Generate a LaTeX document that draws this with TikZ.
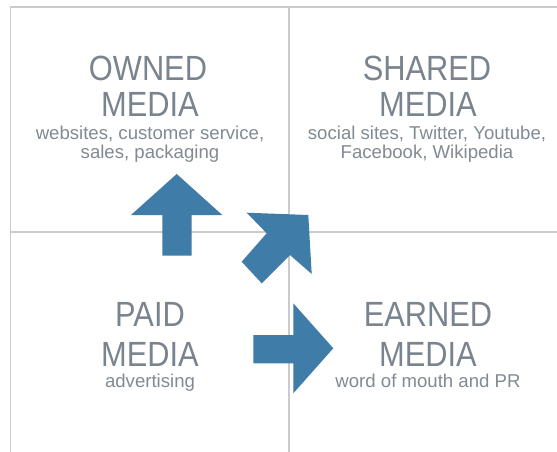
\documentclass[tikz,border=0pt]{standalone}
\usepackage{fontspec}
\setmainfont{Liberation Sans}
\newfontfamily\titlefont{Liberation Sans}[FakeStretch=0.88]
\definecolor{gridgray}{RGB}{202,203,205}
\definecolor{titlegray}{RGB}{122,132,142}
\definecolor{descgray}{RGB}{130,138,146}
\definecolor{arrowblue}{RGB}{64,124,168}
\begin{document}
\begin{tikzpicture}[x=1pt,y=-1pt,
  gridline/.style={draw=gridgray,line width=1.4pt},
  title/.style={anchor=base,inner sep=0pt,text=titlegray,
    font=\titlefont\fontsize{35}{35}\selectfont},
  desc/.style={anchor=base,inner sep=0pt,text=descgray,
    font=\fontsize{18.6}{18.6}\selectfont},
  blockarrow/.style={fill=arrowblue,draw=none}]
\fill[white] (0,0) rectangle (557,452);
\useasboundingbox (0,0) rectangle (557,452);

% quadrant grid
\coordinate (corner) at (10.7,7);
\coordinate (leftend) at (10.7,452);
\coordinate (topend) at (557,7);
\coordinate (midtop) at (289,7);
\coordinate (midbottom) at (289,452);
\coordinate (midleft) at (10.7,232);
\coordinate (midright) at (557,232);
\draw[gridline] (leftend) -- (corner) -- (topend);
\draw[gridline] (midtop) -- (midbottom);
\draw[gridline] (midleft) -- (midright);

% owned media
\node[title] (ownedA) at (148,81) {OWNED};
\node[title] (ownedB) at (150,116) {MEDIA};
\node[desc] (ownedC) at (150,139.3) {websites, customer service,};
\node[desc] (ownedD) at (150,158.3) {sales, packaging};

% shared media
\node[title] (sharedA) at (427,81) {SHARED};
\node[title] (sharedB) at (428,116) {MEDIA};
\node[desc] (sharedC) at (427,139.3) {social sites, Twitter, Youtube,};
\node[desc] (sharedD) at (427,158.3) {Facebook, Wikipedia};

% paid media
\node[title] (paidA) at (150,326.7) {PAID};
\node[title] (paidB) at (150,366.7) {MEDIA};
\node[desc] (paidC) at (150,387.3) {advertising};

% earned media
\node[title] (earnedA) at (428,326.7) {EARNED};
\node[title] (earnedB) at (428,366.7) {MEDIA};
\node[desc] (earnedC) at (428,387.3) {word of mouth and PR};

% block arrows
\fill[blockarrow] (176.7,174) -- (222.3,215) -- (191.7,215) -- (191.7,255.7)
  -- (162.3,255.7) -- (162.3,215) -- (131,215) -- cycle;
\fill[blockarrow] (246.7,212.7) -- (308.3,215) -- (311.7,274) -- (290,255)
  -- (261.7,283.3) -- (241.7,261.7) -- (266.7,233.3) -- cycle;
\fill[blockarrow] (333.3,348.3) -- (293.3,393.3) -- (293.3,363.3) -- (253.3,363.3)
  -- (253.3,335) -- (293.3,335) -- (293.3,303.3) -- cycle;
\end{tikzpicture}
\end{document}
